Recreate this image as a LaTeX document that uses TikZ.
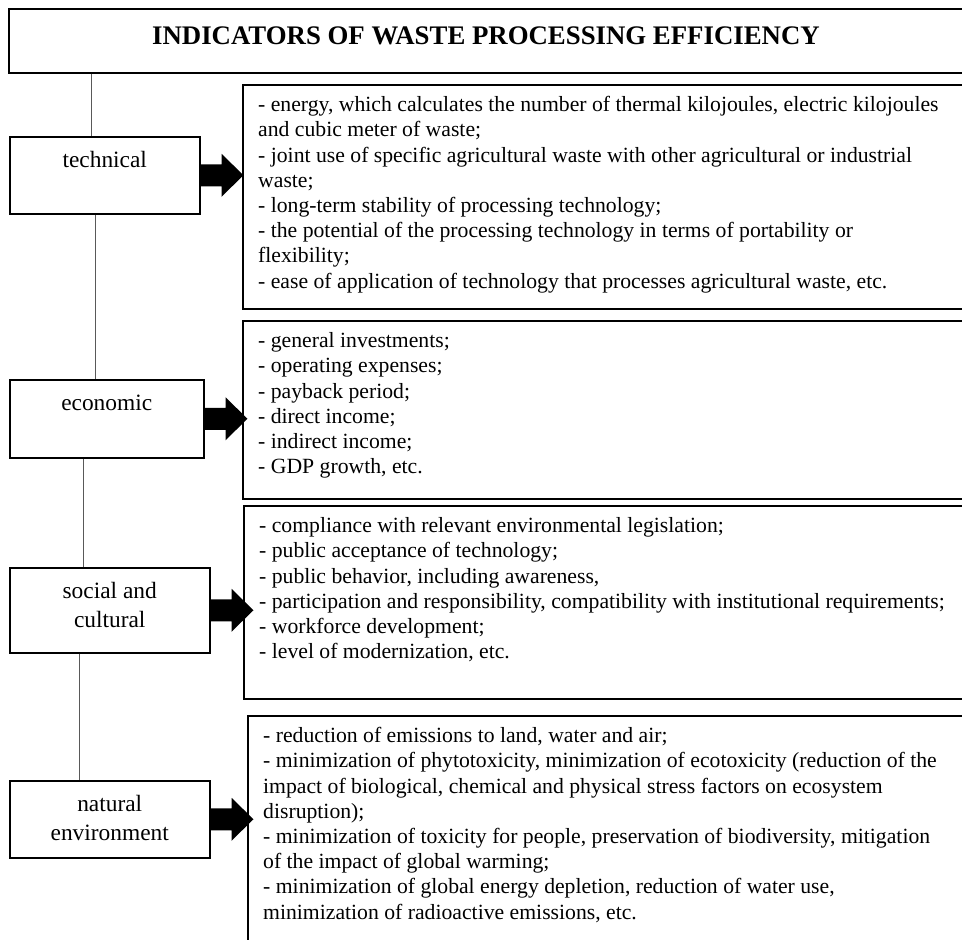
\documentclass[tikz,border=0pt]{standalone}
\usepackage{fontspec}
\setmainfont{Liberation Serif}
\usetikzlibrary{calc}
\begin{document}
\begin{tikzpicture}[x=1pt,y=-1pt,
  rbox/.style={draw, line width=1.6pt, inner sep=0pt, anchor=north west},
  lbox/.style={draw, line width=1.5pt, inner sep=0pt, anchor=north west},
  ltext/.style={anchor=north, inner sep=0pt, align=center, font=\fontsize{23.4}{29.5}\selectfont},
  btext/.style={anchor=north west, inner sep=0pt, align=left, font=\fontsize{21.7}{25.2}\selectfont},
  ttext/.style={anchor=base, inner sep=0pt, font=\fontsize{26.8}{30}\selectfont\bfseries},
  conn/.style={draw=black!65, line width=1pt},
  bigarrow/.style={fill=black}]
\clip (0,0) rectangle (962,940);
\fill[white] (0,0) rectangle (962,940);

% title
\node[rbox, minimum width=970, minimum height=64] (title) at (8,8) {};
\node[ttext] (titletext) at (486,44) {INDICATORS OF WASTE PROCESSING EFFICIENCY};

% left boxes
\node[lbox, minimum width=190, minimum height=77] (tech) at (9,136) {};
\node[lbox, minimum width=194, minimum height=78] (econ) at (9,379) {};
\node[lbox, minimum width=200, minimum height=85] (soc) at (9,567) {};
\node[lbox, minimum width=200, minimum height=77] (nat) at (9,780) {};

\node[ltext] (techlabel) at ($(tech.north)+(0,10.4)$) {\strut technical};
\node[ltext] (econlabel) at ($(econ.north)+(0,10.4)$) {\strut economic};
\node[ltext] (soclabel) at ($(soc.north)+(0,10.4)$) {\strut social and\\cultural};
\node[ltext] (natlabel) at ($(nat.north)+(0,10.4)$) {\strut natural\\environment};

% right boxes
\node[rbox, minimum width=740, minimum height=224] (r1) at (242,84) {};
\node[rbox, minimum width=740, minimum height=178] (r2) at (242,320) {};
\node[rbox, minimum width=740, minimum height=193] (r3) at (243,505) {};
\node[rbox, minimum width=740, minimum height=260] (r4) at (247,715) {};

\node[btext] (r1text) at ($(r1.north west)+(16,9.9)$) {\strut - energy, which calculates the number of thermal kilojoules, electric kilojoules\\
and cubic meter of waste;\\
- joint use of specific agricultural waste with other agricultural or industrial\\
waste;\\
- long-term stability of processing technology;\\
- the potential of the processing technology in terms of portability or\\
flexibility;\\
- ease of application of technology that processes agricultural waste, etc.};

\node[btext] (r2text) at ($(r2.north west)+(16,9.9)$) {\strut - general investments;\\
- operating expenses;\\
- payback period;\\
- direct income;\\
- indirect income;\\
- GDP growth, etc.};

\node[btext] (r3text) at ($(r3.north west)+(16,9.9)$) {\strut - compliance with relevant environmental legislation;\\
- public acceptance of technology;\\
- public behavior, including awareness,\\
- participation and responsibility, compatibility with institutional requirements;\\
- workforce development;\\
- level of modernization, etc.};

\node[btext] (r4text) at ($(r4.north west)+(16,9.9)$) {\strut - reduction of emissions to land, water and air;\\
- minimization of phytotoxicity, minimization of ecotoxicity (reduction of the\\
impact of biological, chemical and physical stress factors on ecosystem\\
disruption);\\
- minimization of toxicity for people, preservation of biodiversity, mitigation\\
of the impact of global warming;\\
- minimization of global energy depletion, reduction of water use,\\
minimization of radioactive emissions, etc.};

% vertical connectors
\coordinate (x1) at (91,0);
\coordinate (x2) at (95,0);
\coordinate (x3) at (83,0);
\coordinate (x4) at (79,0);
\draw[conn] (title.south -| x1) -- (tech.north -| x1);
\draw[conn] (tech.south -| x2) -- (econ.north -| x2);
\draw[conn] (econ.south -| x3) -- (soc.north -| x3);
\draw[conn] (soc.south -| x4) -- (nat.north -| x4);

% block arrows
\foreach \n in {tech,econ,soc,nat}{
  \fill[bigarrow] ($(\n.east)+(0,-11)$) -- ++(21,0) -- ++(0,-10.5) -- ++(22,21.5)
    -- ++(-22,21.5) -- ++(0,-10.5) -- ++(-21,0) -- cycle;
}
\end{tikzpicture}
\end{document}
